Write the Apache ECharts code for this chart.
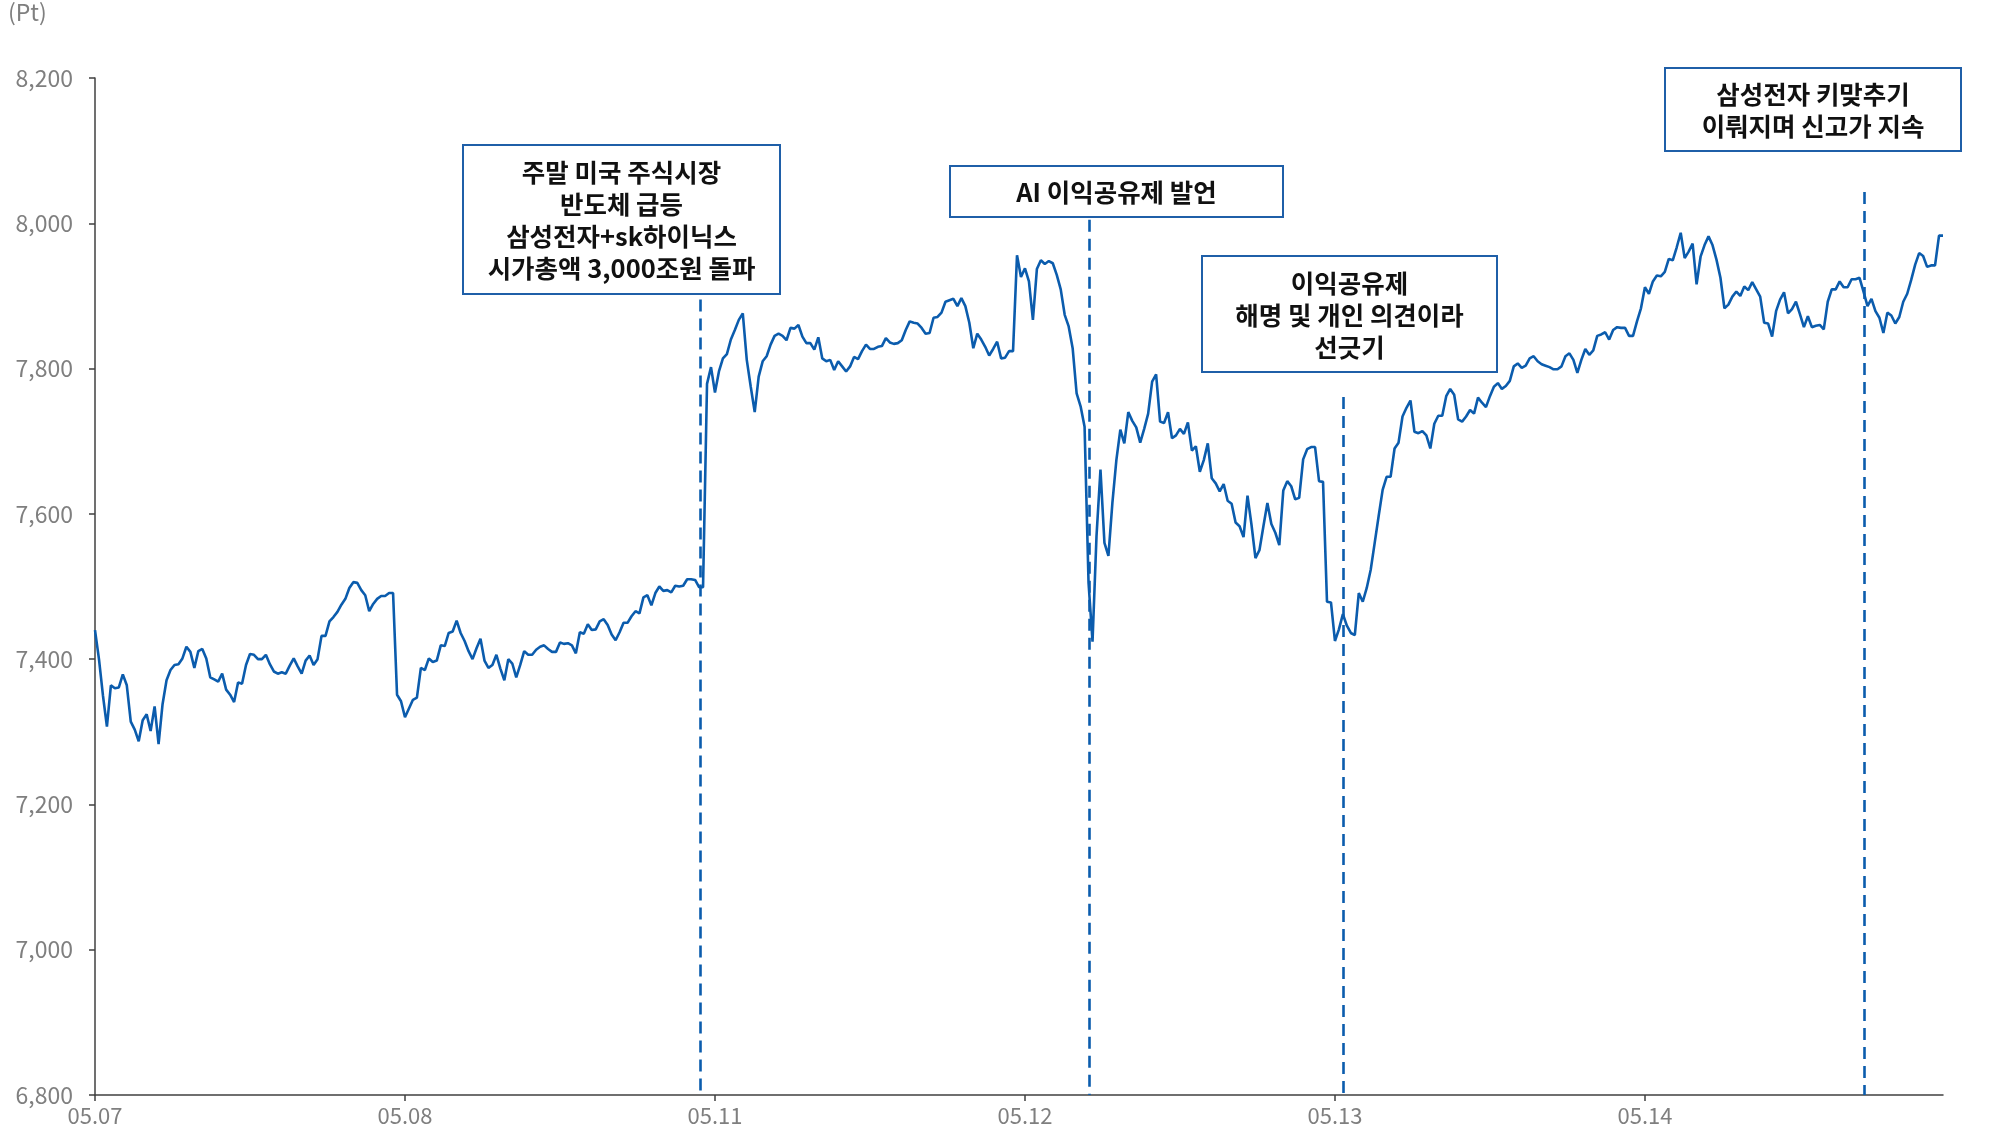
<!DOCTYPE html>
<html>
<head>
<meta charset="utf-8">
<script src="https://cdn.jsdelivr.net/npm/echarts@6/dist/echarts.min.js"></script>
<style>
html,body{margin:0;padding:0;background:#fff;}
#chart{width:2005px;height:1132px;}
</style>
</head>
<body>
<div id="chart"></div>
<script>
// ---- data ----
const dayLabels = ['05.07', '05.08', '05.11', '05.12', '05.13', '05.14'];
const pointsPerDay = 78;
const unitLabel = '(Pt)';

const day0507 = [7440,7400,7350,7307,7364,7360,7361,7379,7364,7314,
 7303,7287,7316,7324,7301,7335,7283,7338,7371,7385,
 7392,7393,7401,7417,7410,7388,7411,7414,7401,7375,
 7372,7369,7380,7358,7351,7341,7368,7366,7392,7407,
 7406,7400,7400,7406,7393,7383,7380,7382,7380,7391,
 7401,7390,7380,7398,7405,7392,7400,7432,7432,7452,
 7458,7465,7475,7483,7498,7506,7505,7495,7488,7466,
 7476,7483,7487,7487,7491,7491,7351,7342];
const day0508 = [7320,7332,7344,7347,7388,7385,7401,7396,7398,7419,
 7418,7436,7438,7453,7436,7425,7411,7400,7415,7428,
 7398,7388,7392,7406,7387,7371,7400,7394,7375,7392,
 7411,7406,7406,7413,7417,7419,7414,7410,7410,7423,
 7421,7422,7419,7408,7437,7435,7448,7440,7441,7452,
 7455,7447,7434,7426,7437,7450,7450,7459,7466,7463,
 7485,7488,7474,7491,7500,7494,7495,7492,7501,7500,
 7501,7510,7510,7509,7499,7499,7779,7802];
const day0511 = [7767,7796,7814,7820,7840,7853,7867,7876,7812,7775,
 7740,7789,7810,7817,7833,7845,7848,7845,7839,7856,
 7855,7860,7844,7835,7835,7826,7843,7814,7810,7812,
 7798,7810,7803,7796,7803,7816,7813,7824,7833,7827,
 7827,7830,7831,7842,7836,7834,7835,7839,7853,7865,
 7863,7862,7856,7848,7849,7870,7871,7877,7892,7894,
 7896,7886,7897,7886,7863,7828,7848,7840,7830,7818,
 7827,7837,7814,7815,7824,7824,7956,7926];
const day0512 = [7938,7920,7867,7937,7949,7944,7948,7945,7929,7909,
 7874,7858,7828,7766,7748,7720,7505,7424,7569,7661,
 7560,7542,7615,7674,7716,7697,7740,7728,7719,7698,
 7717,7738,7782,7792,7727,7725,7740,7704,7708,7717,
 7710,7726,7687,7693,7658,7674,7697,7649,7642,7631,
 7641,7618,7614,7588,7583,7568,7625,7585,7539,7550,
 7583,7615,7586,7574,7557,7632,7645,7638,7620,7622,
 7675,7689,7692,7692,7645,7644,7479,7478];
const day0513 = [7425,7441,7462,7446,7436,7433,7491,7479,7498,7523,
 7560,7597,7633,7651,7651,7690,7698,7734,7746,7756,
 7713,7711,7714,7708,7690,7724,7735,7735,7762,7772,
 7764,7730,7727,7734,7743,7738,7760,7753,7747,7762,
 7775,7780,7772,7776,7783,7803,7807,7801,7804,7814,
 7817,7810,7806,7804,7802,7799,7799,7803,7817,7821,
 7812,7794,7812,7827,7819,7825,7845,7847,7850,7840,
 7853,7857,7856,7856,7845,7845,7865,7883];
const day0514 = [7912,7903,7920,7928,7927,7933,7951,7949,7967,7987,
 7952,7961,7972,7916,7954,7970,7982,7970,7950,7925,
 7883,7888,7899,7906,7900,7913,7908,7919,7909,7899,
 7863,7862,7844,7879,7895,7905,7876,7882,7892,7875,
 7857,7872,7857,7859,7860,7854,7892,7909,7909,7920,
 7912,7912,7923,7923,7925,7906,7886,7896,7879,7870,
 7849,7877,7873,7862,7871,7892,7903,7922,7943,7959,
 7955,7940,7942,7942,7983,7983];

const yMin = 6800, yMax = 8200, yStep = 200;

// event marker lines (x as point index, top value in Pt)
const eventIdx = [152.2, 250.1, 314.0, 445.1];
const eventTop = [7895, 8005, 7761, 8043];

// annotation texts
const notes = [
  ['주말 미국 주식시장', '반도체 급등', '삼성전자+sk하이닉스', '시가총액 3,000조원 돌파'],
  ['AI 이익공유제 발언'],
  ['이익공유제', '해명 및 개인 의견이라', '선긋기'],
  ['삼성전자 키맞추기', '이뤄지며 신고가 지속']
];

// ---- build ----
const values = [].concat(day0507, day0508, day0511, day0512, day0513, day0514);
const seriesData = values.map((v, i) => [i, v]);
const dayTicks = dayLabels.map((d, k) => k * pointsPerDay);

const BLUE = '#0b5cad';
const BOX = '#1f5fa8';
const FONT = '"Noto Sans CJK KR", "Noto Sans", sans-serif';

const boxes = [
  {x: 463, y: 145, w: 317, h: 149},
  {x: 950, y: 166, w: 333, h: 51},
  {x: 1202, y: 256, w: 295, h: 116},
  {x: 1665, y: 68, w: 296, h: 83}
];

const graphics = [{
  type: 'text', left: 8, top: 1,
  style: {text: unitLabel, font: '23px ' + FONT, fill: '#7f7f7f'}
}];
boxes.forEach((b, k) => {
  graphics.push({
    type: 'rect', shape: {x: b.x, y: b.y, width: b.w, height: b.h},
    style: {fill: '#fff', stroke: BOX, lineWidth: 2}, z: 10
  });
  graphics.push({
    type: 'text', x: b.x + b.w / 2, y: b.y + b.h / 2 + 1, z: 11,
    style: {text: notes[k].join('\n'), align: 'center', verticalAlign: 'middle',
      font: 'bold 25.5px ' + FONT, lineHeight: 32, fill: '#111'}
  });
});

const chart = echarts.init(document.getElementById('chart'), null, {renderer: 'canvas'});
chart.setOption({
  animation: false,
  backgroundColor: '#fff',
  grid: {left: 95, right: 62, top: 78, bottom: 37, containLabel: false},
  xAxis: {
    type: 'value', min: 0, max: values.length - 1,
    splitLine: {show: false},
    axisLine: {show: true, lineStyle: {color: '#404040', width: 1.5}},
    axisTick: {show: true, customValues: dayTicks, length: 6, lineStyle: {color: '#404040', width: 1.5}},
    axisLabel: {
      customValues: dayTicks, margin: 10, color: '#7f7f7f', fontSize: 22, fontFamily: FONT,
      formatter: v => dayLabels[Math.round(v / pointsPerDay)] || ''
    }
  },
  yAxis: {
    type: 'value', min: yMin, max: yMax, interval: yStep,
    splitLine: {show: false},
    axisLine: {show: true, lineStyle: {color: '#404040', width: 1.5}},
    axisTick: {show: true, length: 6, lineStyle: {color: '#404040', width: 1.5}},
    axisLabel: {margin: 22, color: '#7f7f7f', fontSize: 23, fontFamily: FONT}
  },
  series: [{
    type: 'line', data: seriesData, symbol: 'none', smooth: false,
    lineStyle: {color: BLUE, width: 2.6}, z: 3,
    markLine: {
      silent: true, symbol: ['none', 'none'], label: {show: false},
      lineStyle: {color: BLUE, width: 2.6, type: [12, 7]},
      data: eventIdx.map((x, k) => [{coord: [x, eventTop[k]]}, {coord: [x, yMin]}])
    }
  }],
  graphic: graphics
});
</script>
</body>
</html>
